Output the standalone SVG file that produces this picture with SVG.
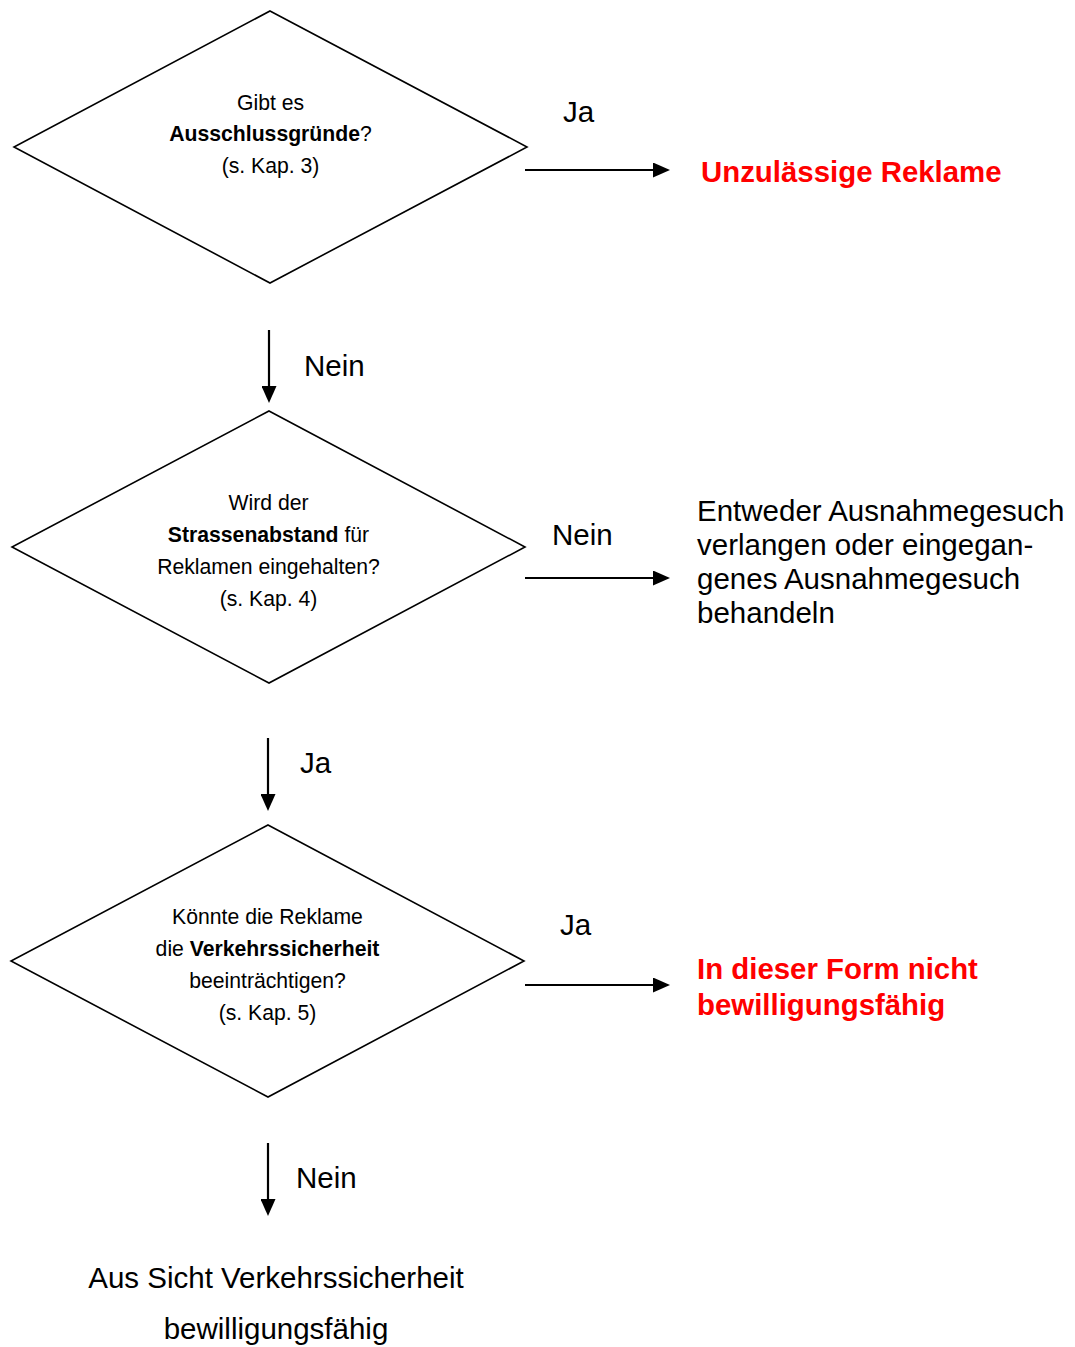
<svg xmlns="http://www.w3.org/2000/svg" width="1075" height="1347" viewBox="0 0 1075 1347">
<style>
.t{font-family:"Liberation Sans",Arial,sans-serif;fill:#000}
.q{font-size:21.2px}
.l{font-size:29.5px}
.r{font-size:29.4px;font-weight:bold;fill:#ff0000}
.b{font-weight:bold}
.d{fill:#fff;stroke:#000;stroke-width:1.6}
.c{fill:none;stroke:#000;stroke-width:2.2}
</style>
<defs>
<marker id="ah" viewBox="0 0 17 15" refX="8" refY="7.5" markerWidth="17" markerHeight="15" markerUnits="userSpaceOnUse" orient="auto">
<path d="M0,0 L17,7.5 L0,15 z" fill="#000"/>
</marker>
</defs>
<rect width="1075" height="1347" fill="#fff"/>
<g id="connectors">
<line class="c" x1="525" y1="170" x2="661" y2="170" marker-end="url(#ah)"/>
<line class="c" x1="269" y1="330" x2="269" y2="394" marker-end="url(#ah)"/>
<line class="c" x1="525" y1="578" x2="661" y2="578" marker-end="url(#ah)"/>
<line class="c" x1="268" y1="738" x2="268" y2="802" marker-end="url(#ah)"/>
<line class="c" x1="525" y1="985" x2="661" y2="985" marker-end="url(#ah)"/>
<line class="c" x1="268" y1="1143" x2="268" y2="1207" marker-end="url(#ah)"/>
<text class="t l" x="563" y="122">Ja</text>
<text class="t l" x="304" y="376">Nein</text>
<text class="t l" x="552" y="545">Nein</text>
<text class="t l" x="300" y="773">Ja</text>
<text class="t l" x="560" y="935">Ja</text>
<text class="t l" x="296" y="1188">Nein</text>
</g>
<g id="d1">
<polygon class="d" points="270,11 527,147 270,283 14,147"/>
<text class="t q" x="270.5" y="110" text-anchor="middle">Gibt es</text>
<text class="t q" x="270.5" y="141" text-anchor="middle"><tspan class="b">Ausschlussgründe</tspan>?</text>
<text class="t q" x="270.5" y="173" text-anchor="middle">(s. Kap. 3)</text>
</g>
<g id="d2">
<polygon class="d" points="269,411 525,547 269,683 12,547"/>
<text class="t q" x="268.5" y="510" text-anchor="middle">Wird der</text>
<text class="t q" x="268.5" y="542" text-anchor="middle"><tspan class="b">Strassenabstand</tspan> für</text>
<text class="t q" x="268.5" y="574" text-anchor="middle">Reklamen eingehalten?</text>
<text class="t q" x="268.5" y="606" text-anchor="middle">(s. Kap. 4)</text>
</g>
<g id="d3">
<polygon class="d" points="268,825 524,961 268,1097 11,961"/>
<text class="t q" x="267.5" y="924" text-anchor="middle">Könnte die Reklame</text>
<text class="t q" x="267.5" y="956" text-anchor="middle">die <tspan class="b">Verkehrssicherheit</tspan></text>
<text class="t q" x="267.5" y="988" text-anchor="middle">beeinträchtigen?</text>
<text class="t q" x="267.5" y="1020" text-anchor="middle">(s. Kap. 5)</text>
</g>
<g id="out1">
<text class="t r" x="701" y="182">Unzulässige Reklame</text>
</g>
<g id="out2">
<text class="t l" x="697" y="521">Entweder Ausnahmegesuch</text>
<text class="t l" x="697" y="555">verlangen oder eingegan-</text>
<text class="t l" x="697" y="589">genes Ausnahmegesuch</text>
<text class="t l" x="697" y="623">behandeln</text>
</g>
<g id="out3">
<text class="t r" x="697" y="979">In dieser Form nicht</text>
<text class="t r" x="697" y="1015">bewilligungsfähig</text>
</g>
<g id="out4">
<text class="t l" x="276" y="1288" text-anchor="middle">Aus Sicht Verkehrssicherheit</text>
<text class="t l" x="276" y="1339" text-anchor="middle">bewilligungsfähig</text>
</g>
</svg>
